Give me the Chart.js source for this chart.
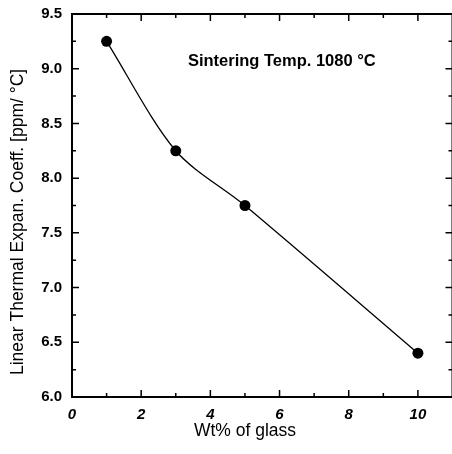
<!DOCTYPE html>
<html>
<head>
<meta charset="utf-8">
<script src="https://cdn.jsdelivr.net/npm/chart.js@4"></script>
<style>
    html, body { margin: 0; padding: 0; background: #fff; overflow: hidden; }
    canvas { display: block; }
</style>
</head>
<body>
<canvas id="expansionChart" width="458" height="454"></canvas>
<script>
// data
const glassWt = [1, 3, 5, 10];
const expansionCoeff = [9.25, 8.25, 7.75, 6.4];
const xTicks = [0, 2, 4, 6, 8, 10];
const xMinorTicks = [1, 3, 5, 7, 9];
const yTicks = [6.0, 6.5, 7.0, 7.5, 8.0, 8.5, 9.0, 9.5];
const yMinorTicks = [6.25, 6.75, 7.25, 7.75, 8.25, 8.75, 9.25];
const xTitle = 'Wt% of glass';
const yTitle = 'Linear Thermal Expan. Coeff. [ppm/ °C]';
const noteText = 'Sintering Temp. 1080 °C';

const FONT = '"Liberation Sans", Arial, sans-serif';

// frame, inward ticks on all four sides, axis titles and the note
const frameAndTicks = {
    id: 'frameAndTicks',
    afterDraw(chart) {
        const { ctx, chartArea: a, scales: { x, y } } = chart;
        ctx.save();
        ctx.strokeStyle = '#000';
        ctx.lineWidth = 2;
        ctx.strokeRect(a.left, a.top, a.right - a.left, a.bottom - a.top);

        ctx.lineWidth = 1.5;
        ctx.beginPath();
        const tick = (vals, len) => {
            vals.forEach(v => {
                const px = x.getPixelForValue(v);
                ctx.moveTo(px, a.bottom); ctx.lineTo(px, a.bottom - len);
                ctx.moveTo(px, a.top); ctx.lineTo(px, a.top + len);
            });
        };
        const ytick = (vals, len) => {
            vals.forEach(v => {
                const py = y.getPixelForValue(v);
                ctx.moveTo(a.left, py); ctx.lineTo(a.left + len, py);
                ctx.moveTo(a.right, py); ctx.lineTo(a.right - len, py);
            });
        };
        tick(xTicks, 7);
        tick(xMinorTicks, 4);
        ytick(yTicks, 7);
        ytick(yMinorTicks, 4);
        ctx.stroke();

        ctx.fillStyle = '#000';
        ctx.textBaseline = 'middle';

        // axis titles
        ctx.font = '17.5px ' + FONT;
        ctx.textAlign = 'center';
        ctx.fillText(xTitle, x.getPixelForValue(5), 431);
        ctx.save();
        ctx.translate(18, y.getPixelForValue(7.6));
        ctx.rotate(-Math.PI / 2);
        ctx.fillText(yTitle, 0, 0);
        ctx.restore();

        // note in the upper part of the plot
        ctx.font = 'bold 16.5px ' + FONT;
        ctx.textAlign = 'left';
        ctx.fillText(noteText, x.getPixelForValue(3.35), y.getPixelForValue(9.07));
        ctx.restore();
    }
};

const ctx = document.getElementById('expansionChart').getContext('2d');

new Chart(ctx, {
    type: 'scatter',
    data: {
        datasets: [{
            data: glassWt.map((v, i) => ({ x: v, y: expansionCoeff[i] })),
            showLine: true,
            tension: 0.3,
            borderColor: '#000',
            borderWidth: 1.3,
            backgroundColor: '#000',
            pointRadius: 5.5,
            pointHoverRadius: 5.5,
            pointBorderWidth: 0
        }]
    },
    options: {
        responsive: false,
        animation: false,
        devicePixelRatio: 1,
        layout: { padding: { top: 14, right: 4, left: 0, bottom: 0 } },
        plugins: {
            legend: { display: false },
            tooltip: { enabled: false }
        },
        scales: {
            x: {
                type: 'linear',
                min: 0,
                max: 11,
                grid: { display: false },
                border: { display: false },
                afterBuildTicks: scale => { scale.ticks = xTicks.map(v => ({ value: v })); },
                afterFit: scale => { scale.height = 57; },
                ticks: {
                    color: '#000',
                    padding: 1,
                    maxRotation: 0,
                    font: { family: FONT, size: 15, weight: 'bold', style: 'italic' }
                }
            },
            y: {
                type: 'linear',
                min: 6,
                max: 9.5,
                grid: { display: false },
                border: { display: false },
                afterBuildTicks: scale => { scale.ticks = yTicks.map(v => ({ value: v })); },
                afterFit: scale => { scale.width = 72; },
                ticks: {
                    color: '#000',
                    padding: 2,
                    font: { family: FONT, size: 15, weight: 'bold' },
                    callback: v => v.toFixed(1)
                }
            }
        }
    },
    plugins: [frameAndTicks]
});
</script>
</body>
</html>
